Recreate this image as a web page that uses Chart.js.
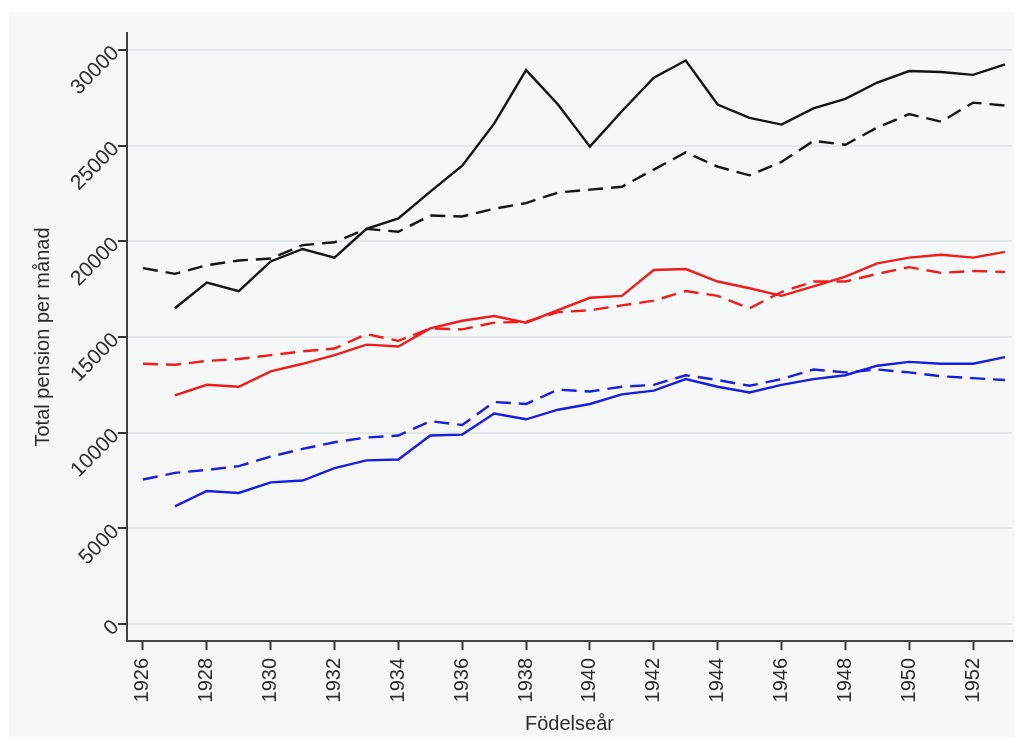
<!DOCTYPE html>
<html>
<head>
<meta charset="utf-8">
<script src="https://cdn.jsdelivr.net/npm/chart.js@4"></script>
<style>
    body { margin: 0; background: #ffffff; }
    canvas { display: block; }
</style>
</head>
<body>
<canvas id="pensionChart" width="1018" height="738"></canvas>
<script>
// Birth years (x axis)
const years = [1926, 1927, 1928, 1929, 1930, 1931, 1932, 1933, 1934, 1935, 1936, 1937, 1938, 1939,
               1940, 1941, 1942, 1943, 1944, 1945, 1946, 1947, 1948, 1949, 1950, 1951, 1952, 1953];

// Black lines
const blackSolid = [null, 16500, 17850, 17400, 18950, 19600, 19150, 20650, 21200, 22600, 23950, 26150, 28950, 27150,
                    24950, 26800, 28550, 29450, 27150, 26450, 26100, 26950, 27450, 28300, 28900, 28850, 28700, 29250];
const blackDashed = [18600, 18300, 18750, 19000, 19100, 19800, 19950, 20650, 20500, 21350, 21300, 21700, 22000, 22550,
                     22700, 22850, 23750, 24650, 23900, 23450, 24150, 25250, 25050, 25950, 26650, 26250, 27250, 27100];

// Red lines
const redSolid = [null, 11950, 12500, 12400, 13200, 13600, 14050, 14600, 14500, 15450, 15850, 16100, 15750, 16400,
                  17050, 17150, 18500, 18550, 17900, 17550, 17150, 17650, 18150, 18850, 19150, 19300, 19150, 19450];
const redDashed = [13600, 13550, 13750, 13850, 14050, 14250, 14400, 15150, 14800, 15450, 15400, 15750, 15800, 16300,
                   16400, 16650, 16900, 17400, 17150, 16500, 17350, 17900, 17900, 18300, 18650, 18350, 18450, 18400];

// Blue lines
const blueSolid = [null, 6150, 6950, 6850, 7400, 7500, 8150, 8550, 8600, 9850, 9900, 11000, 10700, 11200,
                   11500, 12000, 12200, 12800, 12400, 12100, 12500, 12800, 13000, 13500, 13700, 13600, 13600, 13950];
const blueDashed = [7550, 7900, 8050, 8250, 8750, 9150, 9500, 9750, 9850, 10600, 10400, 11600, 11500, 12250,
                    12150, 12400, 12500, 13000, 12750, 12450, 12800, 13300, 13150, 13300, 13150, 12950, 12850, 12750];

// Tick labels
const xTicks = [1926, 1928, 1930, 1932, 1934, 1936, 1938, 1940, 1942, 1944, 1946, 1948, 1950, 1952];
const yTicks = [0, 5000, 10000, 15000, 20000, 25000, 30000];

function toPoints(values) {
    return years.map((yr, i) => ({ x: yr, y: values[i] }));
}

function makeLine(values, color, dashed) {
    return {
        data: toPoints(values),
        borderColor: color,
        borderWidth: 2.4,
        borderDash: dashed ? [15, 8] : [],
        pointRadius: 0,
        tension: 0,
        fill: false
    };
}

// Panel background (Stata-like light tint)
const panelBackground = {
    id: 'panelBackground',
    beforeDraw(chart) {
        const ctx = chart.ctx;
        ctx.save();
        ctx.fillStyle = '#f5f8f6';
        ctx.fillRect(9, 12, 1005, 725);
        ctx.restore();
    }
};

const tickFont = { family: 'Liberation Sans, Arial, sans-serif', size: 20 };
const textColor = '#2b2b2b';

new Chart(document.getElementById('pensionChart').getContext('2d'), {
    type: 'line',
    data: {
        datasets: [
            makeLine(blackSolid, '#141414', false),
            makeLine(blackDashed, '#141414', true),
            makeLine(redSolid, '#ee1c1c', false),
            makeLine(redDashed, '#ee1c1c', true),
            makeLine(blueSolid, '#1c1cdc', false),
            makeLine(blueDashed, '#1c1cdc', true)
        ]
    },
    plugins: [panelBackground],
    options: {
        responsive: false,
        animation: false,
        layout: { padding: { top: 33, right: 6, left: 0, bottom: 0 } },
        plugins: {
            legend: { display: false },
            tooltip: { enabled: false }
        },
        scales: {
            x: {
                type: 'linear',
                min: 1925.5,
                max: 1953.22,
                afterBuildTicks: function(scale) {
                    scale.ticks = xTicks.map(v => ({ value: v }));
                },
                afterFit: function(scale) {
                    scale.height = 97;
                    scale.paddingLeft = 0;
                    scale.paddingRight = 0;
                },
                grid: {
                    drawOnChartArea: false,
                    drawTicks: true,
                    tickLength: 9,
                    tickColor: '#333',
                    tickWidth: 2
                },
                border: { display: true, color: '#444', width: 2 },
                ticks: {
                    minRotation: 90,
                    maxRotation: 90,
                    padding: 8,
                    color: textColor,
                    font: tickFont,
                    callback: v => String(v)
                },
                title: {
                    display: true,
                    text: 'Födelseår',
                    color: textColor,
                    font: { family: 'Liberation Sans, Arial, sans-serif', size: 20 },
                    padding: { top: 0, bottom: 2 }
                }
            },
            y: {
                min: -888,
                max: 30888,
                afterBuildTicks: function(scale) {
                    scale.ticks = yTicks.map(v => ({ value: v }));
                },
                afterFit: function(scale) {
                    scale.width = 127;
                    scale.paddingTop = 0;
                    scale.paddingBottom = 0;
                },
                grid: {
                    color: '#e3e8e8',
                    lineWidth: 2,
                    drawTicks: true,
                    tickLength: 9,
                    tickColor: '#333',
                    tickWidth: 2
                },
                border: { display: true, color: '#444', width: 2 },
                ticks: {
                    minRotation: 45,
                    maxRotation: 45,
                    padding: 2,
                    color: textColor,
                    font: { family: 'Liberation Sans, Arial, sans-serif', size: 21 },
                    callback: v => String(v)
                },
                title: {
                    display: true,
                    text: 'Total pension per månad',
                    color: textColor,
                    font: { family: 'Liberation Sans, Arial, sans-serif', size: 20 },
                    padding: { top: 31, bottom: 0 }
                }
            }
        }
    }
});
</script>
</body>
</html>
